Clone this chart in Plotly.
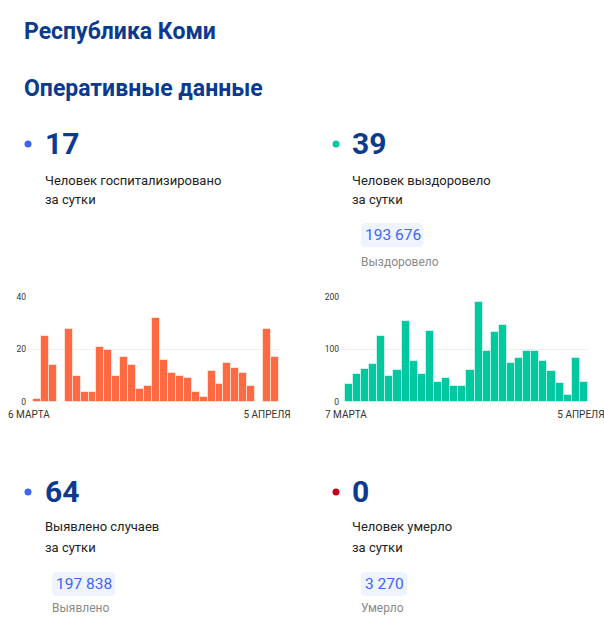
import plotly.graph_objects as go

W, H = 604, 634

# hospitalised per day, 6 March - 5 April
hosp_dates = [f"{d} марта" for d in range(6, 32)] + [f"{d} апреля" for d in range(1, 6)]
hosp_values = [1, 25, 14, 0, 28, 10, 4, 4, 21, 20, 10, 17, 14, 5, 6, 32,
               16, 11, 10, 9, 4, 2, 12, 7, 15, 13, 11, 6, 0, 28, 17]

# recovered per day, 7 March - 5 April
rec_dates = [f"{d} марта" for d in range(7, 32)] + [f"{d} апреля" for d in range(1, 6)]
rec_values = [35, 54, 62, 73, 126, 49, 61, 155, 78, 54, 136, 38, 46, 31, 30,
              61, 190, 97, 134, 146, 74, 84, 98, 98, 78, 59, 36, 14, 84, 39]

hosp_ticks = ["6 МАРТА", "5 АПРЕЛЯ"]
rec_ticks = ["7 МАРТА", "5 АПРЕЛЯ"]

DARK = "#0b3a8e"
BLUE = "#3d66f5"
TEAL = "#00c9a0"
RED = "#c8001e"
ORANGE = "#ff6a43"


def px(x):
    return x / W


def py(y):
    return 1 - y / H


fig = go.Figure()

fig.add_trace(go.Bar(x=hosp_dates, y=hosp_values, marker_color=ORANGE,
                     marker_line=dict(color="rgba(255,255,255,0.55)", width=1),
                     xaxis="x", yaxis="y", hoverinfo="x+y"))
fig.add_trace(go.Bar(x=rec_dates, y=rec_values, marker_color=TEAL,
                     marker_line=dict(color="rgba(255,255,255,0.55)", width=1),
                     xaxis="x2", yaxis="y2", hoverinfo="x+y"))

ytick_font = dict(family="Roboto", size=8.5, color="#333333")
xtick_font = dict(family="Roboto", size=10, color="#333333")

fig.update_layout(
    template="none",
    width=W, height=H,
    margin=dict(l=0, r=0, t=0, b=0, pad=0),
    paper_bgcolor="white", plot_bgcolor="white",
    showlegend=False, bargap=0,
    font=dict(family="Roboto"),
    xaxis=dict(domain=[px(27), px(279)], type="category", automargin=False,
               range=[-1.25, len(hosp_dates) - 0.5],
               tickmode="array", tickvals=[hosp_dates[0], hosp_dates[-1]],
               ticktext=hosp_ticks, tickfont=xtick_font, ticks="",
               ticklabelstandoff=5, ticklabelshift=-8,
               showgrid=False, zeroline=False, showline=False),
    yaxis=dict(domain=[py(402), py(297)], range=[0, 40], tickvals=[0, 20, 40],
               automargin=False, tickfont=ytick_font, showgrid=True,
               gridcolor="#efefef", gridwidth=1, zeroline=False, ticks="",
               showline=False),
    xaxis2=dict(domain=[px(340), px(588)], type="category", automargin=False,
                range=[-1.1, len(rec_dates) - 0.5],
                tickmode="array", tickvals=[rec_dates[0], rec_dates[-1]],
                ticktext=rec_ticks, tickfont=xtick_font, ticks="",
                ticklabelstandoff=5, ticklabelshift=-3,
                showgrid=False, zeroline=False, showline=False, anchor="y2"),
    yaxis2=dict(domain=[py(402), py(297)], range=[0, 200], tickvals=[0, 100, 200],
                automargin=False, tickfont=ytick_font, showgrid=True,
                gridcolor="#efefef", gridwidth=1, zeroline=False, ticks="",
                showline=False, anchor="x2"),
)


def text(x, y, s, size, color, bold=False):
    if bold:
        s = f"<b>{s}</b>"
    fig.add_annotation(x=px(x), y=py(y), xref="paper", yref="paper",
                       text=s, showarrow=False, xanchor="left", yanchor="middle",
                       borderpad=0, font=dict(family="Roboto", size=size, color=color))


def dot(x, y, color, r=3.5):
    fig.add_shape(type="circle", xref="paper", yref="paper",
                  x0=px(x - r), x1=px(x + r), y0=py(y + r), y1=py(y - r),
                  fillcolor=color, line_width=0)


def pill(x0, x1, y0, y1, label, r=4):
    # rounded rectangle drawn as a path in paper units
    d = (f"M {px(x0 + r)},{py(y0)} L {px(x1 - r)},{py(y0)} "
         f"Q {px(x1)},{py(y0)} {px(x1)},{py(y0 + r)} "
         f"L {px(x1)},{py(y1 - r)} Q {px(x1)},{py(y1)} {px(x1 - r)},{py(y1)} "
         f"L {px(x0 + r)},{py(y1)} Q {px(x0)},{py(y1)} {px(x0)},{py(y1 - r)} "
         f"L {px(x0)},{py(y0 + r)} Q {px(x0)},{py(y0)} {px(x0 + r)},{py(y0)} Z")
    fig.add_shape(type="path", path=d, xref="paper", yref="paper",
                  fillcolor="#eef3fe", line_width=0, layer="below")
    text(x0 + 3, (y0 + y1) / 2, label, 15.5, BLUE)


# headers
text(23, 31, "Республика Коми", 23, DARK, bold=True)
text(23, 88, "Оперативные данные", 23, DARK, bold=True)

# hospitalised
dot(28, 144, BLUE)
text(44, 143, "17", 30, DARK, bold=True)
text(44, 180, "Человек госпитализировано", 13, "#222222")
text(44, 199, "за сутки", 13, "#222222")

# recovered
dot(336, 144, TEAL)
text(351, 143, "39", 30, DARK, bold=True)
text(351, 180, "Человек выздоровело", 13, "#222222")
text(351, 199, "за сутки", 13, "#222222")
pill(361, 423, 223, 247, "193 676")
text(360, 262, "Выздоровело", 12, "#8a8a8a")

# cases
dot(28, 492, BLUE)
text(44, 491, "64", 30, DARK, bold=True)
text(44, 526, "Выявлено случаев", 13, "#222222")
text(44, 547, "за сутки", 13, "#222222")
pill(52, 115, 572, 596, "197 838")
text(51, 608, "Выявлено", 12, "#8a8a8a")

# deaths
dot(336, 492, RED)
text(351, 491, "0", 30, DARK, bold=True)
text(351, 526, "Человек умерло", 13, "#222222")
text(351, 547, "за сутки", 13, "#222222")
pill(361, 407, 572, 596, "3 270")
text(360, 608, "Умерло", 12, "#8a8a8a")

# the page body has a default 8px margin; drop it so the figure fills the window
fig.write_html("out.html", config={"displayModeBar": False},
               post_script="document.body.style.margin = '0';")
